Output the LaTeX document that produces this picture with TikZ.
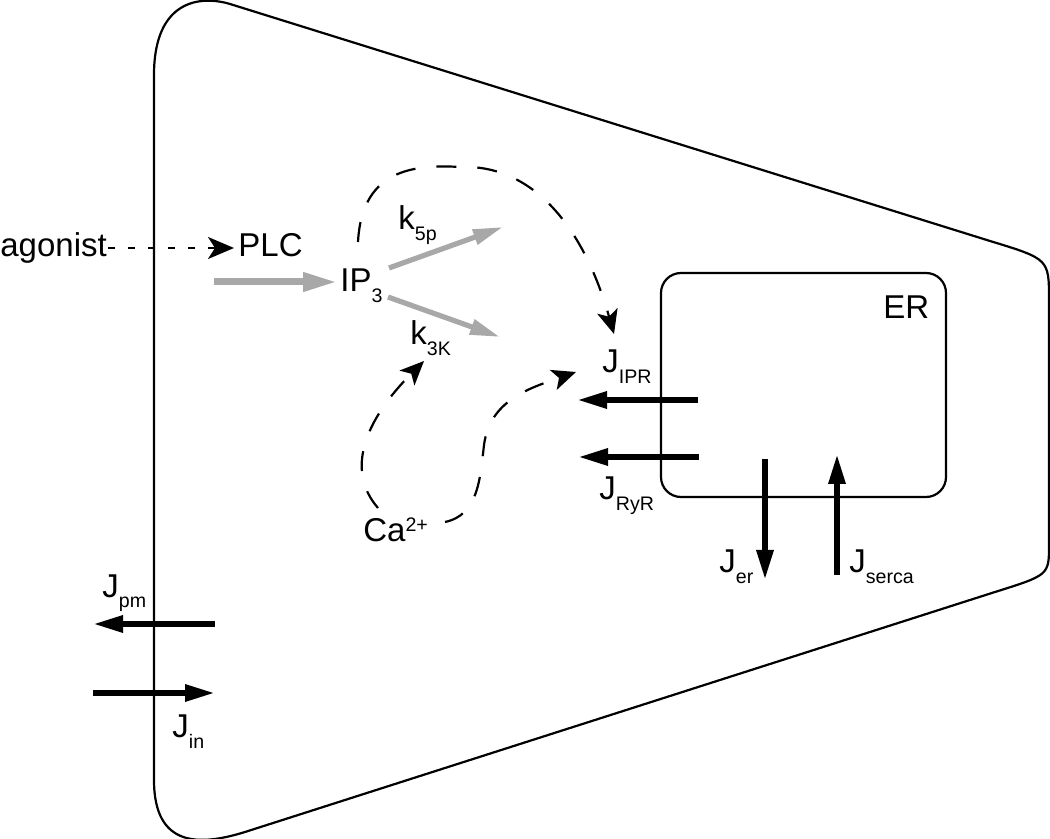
\documentclass[tikz,border=0pt]{standalone}
\usepackage{fontspec}
\setmainfont{Liberation Sans}
\usetikzlibrary{arrows.meta}
\definecolor{ipgray}{RGB}{168,168,168}
\newcommand{\lowsub}[1]{\raisebox{-5.5pt}{\fontsize{9.8}{10}\selectfont #1}}
\newcommand{\highsup}[1]{\raisebox{5.5pt}{\fontsize{9.8}{10}\selectfont #1}}
\tikzset{
x=0.5pt, y=-0.5pt, % one unit is one pixel of the figure, y runs downwards
every node/.style={inner sep=0pt, anchor=base west, font=\fontsize{16.5}{18}\selectfont}, % labels sit on their baseline
membrane/.style={line width=1.1pt}, % cell outline and ER
erbox/.style={draw, line width=1.1pt, rounded corners=10pt, anchor=center, minimum width=142.5pt, minimum height=112pt},
flux/.style={line width=3pt, -{Triangle[length=15pt,width=8pt]}}, % black Ca fluxes
ipflow/.style={ipgray, line width=3.5pt, -{Triangle[length=17pt,width=9pt]}}, % IP3 production
ipdecay/.style={ipgray, line width=2.6pt, -{Triangle[length=15pt,width=7.5pt]}}, % IP3 degradation
feedback/.style={line width=1.1pt, dash pattern=on 10pt off 10.5pt, -{Stealth[length=12pt,width=10.5pt,inset=3pt]}}, % long dashes
activate/.style={line width=1.1pt, dash pattern=on 3.5pt off 6.5pt, -{Stealth[length=13pt,width=11pt,inset=3.5pt]}}, % short dashes
}

\begin{document}
\begin{tikzpicture}
    \useasboundingbox (0,0) rectangle (1050,839);

    % cell membrane
    \draw[membrane] (154,75) -- (154,780)
        .. controls (154,848) and (200,846) .. (245,832)
        -- (995,592) .. controls (1049,575) .. (1049,545)
        -- (1049,300) .. controls (1049,259) .. (990,241)
        -- (230,4) .. controls (200,-5) and (154,0) .. (154,75);

    % ER
    \node[erbox] (ER) at (803.5,385) {};
    \node (ERlabel) at (883,319) {ER};

    % labels
    \node (agonist) at (0,257) {agonist};
    \node (PLC) at (238,257) {PLC};
    \node (IP3) at (340,292) {IP\lowsub{3}};
    \node (k5p) at (398,230) {k\lowsub{5p}};
    \node (k3K) at (410,345) {k\lowsub{3K}};
    \node (Ca) at (363,542) {Ca\highsup{2+}};
    \node (Jipr) at (602,373) {J\lowsub{IPR}};
    \node (Jryr) at (599,500) {J\lowsub{RyR}};
    \node (Jer) at (719,573) {J\lowsub{er}};
    \node (Jserca) at (849,573) {J\lowsub{serca}};
    \node (Jpm) at (102,597) {J\lowsub{pm}};
    \node (Jin) at (172,737) {J\lowsub{in}};

    % arrow ends
    \coordinate (ag-out) at (108,248);
    \coordinate (plc-in) at (234,248);
    \coordinate (prod-out) at (214,282);
    \coordinate (prod-in) at (337,282);
    \coordinate (d5-out) at (389,268);
    \coordinate (d5-in) at (503,227);
    \coordinate (d3-out) at (388,297);
    \coordinate (d3-in) at (500,337);
    \coordinate (fb-out) at (358,242);
    \coordinate (fb-in) at (614,334);
    \coordinate (cak-out) at (378,508);
    \coordinate (cak-in) at (424,361);
    \coordinate (caj-out) at (445,522);
    \coordinate (caj-in) at (576,372);
    \coordinate (ipr-out) at (698,400);
    \coordinate (ipr-in) at (577,400);
    \coordinate (ryr-out) at (699,457);
    \coordinate (ryr-in) at (578,457);
    \coordinate (er-out) at (765,459);
    \coordinate (er-in) at (765,580);
    \coordinate (serca-out) at (837,575);
    \coordinate (serca-in) at (837,454);
    \coordinate (pm-out) at (215,624);
    \coordinate (pm-in) at (93,624);
    \coordinate (in-out) at (93,693);
    \coordinate (in-in) at (215,693);

    % IP3 pathway
    \draw[activate] (ag-out) -- (plc-in);
    \draw[ipflow] (prod-out) -- (prod-in);
    \draw[ipdecay] (d5-out) -- (d5-in);
    \draw[ipdecay] (d3-out) -- (d3-in);

    % regulation
    \draw[feedback] (fb-out) .. controls (362,165) and (420,165) .. (462,167)
        .. controls (525,165) and (580,215) .. (fb-in);
    \draw[feedback] (cak-out) .. controls (345,470) and (365,420) .. (cak-in);
    \draw[feedback] (caj-out) .. controls (478,515) and (480,480) .. (484,445)
        .. controls (490,400) and (530,388) .. (caj-in);

    % fluxes
    \draw[flux] (ipr-out) -- (ipr-in);
    \draw[flux] (ryr-out) -- (ryr-in);
    \draw[flux] (er-out) -- (er-in);
    \draw[flux] (serca-out) -- (serca-in);
    \draw[flux] (pm-out) -- (pm-in);
    \draw[flux] (in-out) -- (in-in);
\end{tikzpicture}
\end{document}
